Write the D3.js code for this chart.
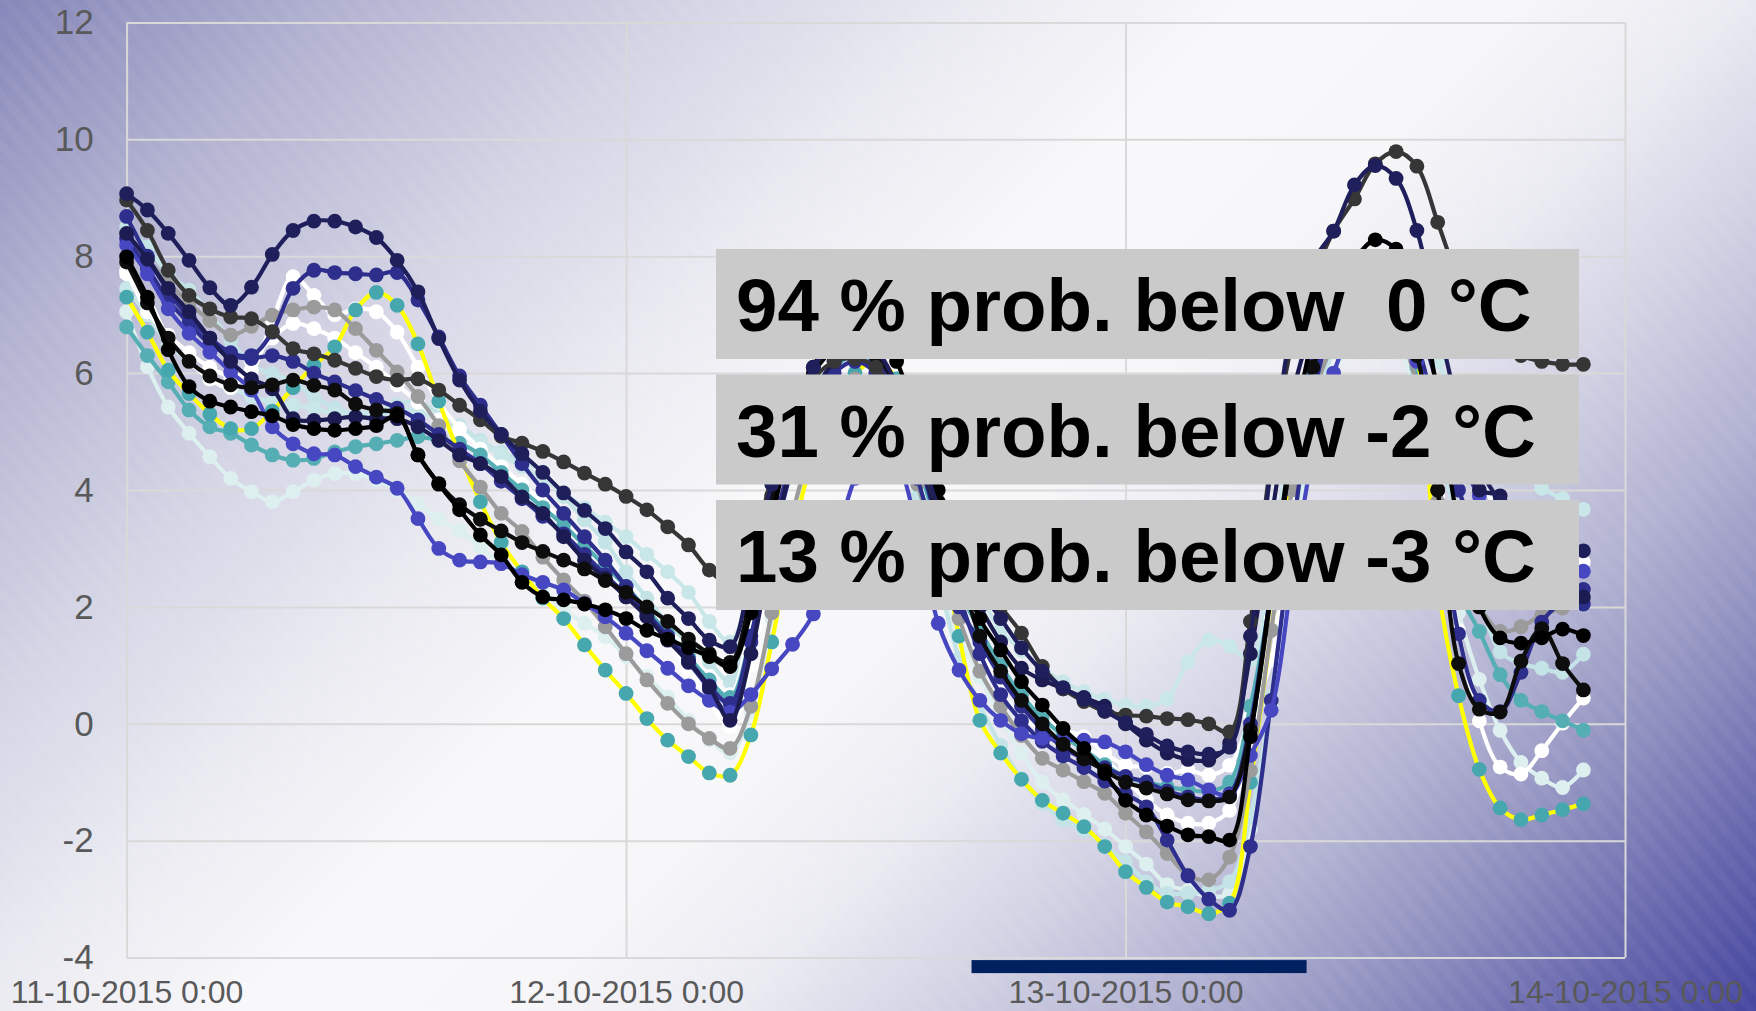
<!DOCTYPE html>
<html>
<head>
<meta charset="utf-8">
<script src="https://cdn.jsdelivr.net/npm/d3@7"></script>
<style>
  body { margin: 0; }
  svg { display: block; }
</style>
</head>
<body>
<div id="chart"></div>
<script>
// ensemble temperature forecast, hourly values from 11-10-2015 0:00
let member01 = [9.07, 8.79, 8.39, 7.93, 7.46, 7.16, 7.47, 8.03, 8.44, 8.60,
  8.60, 8.50, 8.32, 7.93, 7.39, 6.59, 5.88, 5.35, 4.95, 4.62,
  4.30, 3.95, 3.65, 3.34, 2.94, 2.60, 2.15, 1.80, 1.43, 1.32,
  2.6, 4.1, 5.3, 6.1, 6.5, 6.6, 6.4, 5.8, 4.8, 3.7,
  2.9, 2.3, 1.8, 1.3, 0.9, 0.62, 0.42, 0.22, 0.02, -0.18,
  -0.38, -0.48, -0.52, -0.40, 1.5, 4.4, 6.8, 7.9, 8.43, 9.22,
  9.55, 9.33, 8.44, 6.9, 5.4, 4.4, 3.8, 3.45, 3.2, 3.05,
  2.96];
let member02 = [8.96, 8.44, 7.76, 7.33, 7.10, 6.96, 6.93, 6.71, 6.42, 6.33,
  6.22, 6.08, 5.94, 5.88, 5.90, 5.71, 5.45, 5.20, 4.92, 4.80,
  4.66, 4.48, 4.29, 4.10, 3.89, 3.66, 3.37, 3.06, 2.63, 2.4,
  3.0, 4.2, 5.3, 5.9, 6.2, 6.25, 6.1, 5.6, 4.7, 3.7,
  3.0, 2.45, 2.0, 1.55, 0.98, 0.60, 0.38, 0.21, 0.15, 0.13,
  0.09, 0.07, 0.0, -0.14, 1.75, 4.5, 6.5, 7.6, 8.43, 8.98,
  9.58, 9.79, 9.54, 8.58, 7.6, 6.9, 6.5, 6.3, 6.2, 6.15,
  6.15];
let member03 = [8.68, 8.0, 7.4, 6.95, 6.6, 6.35, 6.3, 6.7, 7.45, 7.76,
  7.72, 7.70, 7.68, 7.72, 7.25, 6.62, 5.95, 5.45, 4.95, 4.45,
  4.0, 3.6, 3.2, 2.8, 2.35, 1.9, 1.5, 1.1, 0.65, 0.35,
  1.5, 3.2, 4.6, 5.6, 6.2, 6.4, 6.2, 5.6, 4.6, 3.4,
  2.2, 1.2, 0.5, 0.05, -0.3, -0.55, -0.75, -0.98, -1.2, -1.42,
  -1.99, -2.6, -3.0, -3.19, -2.1, 0.4, 3.2, 5.6, 6.9, 7.5,
  7.7, 7.5, 6.4, 4.0, 1.54, 0.40, 0.21, 0.88, 1.74, 2.1,
  2.3];
let member04 = [8.19, 7.70, 7.10, 6.68, 6.36, 6.02, 5.71, 5.08, 4.79, 4.62,
  4.60, 4.40, 4.22, 4.03, 3.51, 3.0, 2.80, 2.77, 2.74, 2.55,
  2.42, 2.29, 2.06, 1.83, 1.55, 1.25, 0.95, 0.65, 0.4, 0.2,
  0.5, 0.94, 1.36, 1.88, 3.0, 4.2, 4.8, 4.5, 3.3, 1.72,
  0.92, 0.4, 0.06, -0.17, -0.25, -0.27, -0.28, -0.31, -0.48, -0.7,
  -0.88, -0.96, -1.13, -1.22, -0.54, 0.23, 2.5, 4.6, 6.0, 6.8,
  7.1, 6.9, 6.2, 5.4, 4.6, 3.9, 3.5, 3.2, 2.9, 2.72,
  2.61];
let member05 = [7.99, 7.30, 6.40, 5.77, 5.52, 5.42, 5.34, 5.27, 5.12, 5.05,
  5.02, 5.05, 5.10, 5.27, 4.6, 4.1, 3.66, 3.23, 2.89, 2.42,
  2.17, 2.12, 2.05, 1.95, 1.8, 1.6, 1.45, 1.3, 1.15, 0.98,
  1.9, 3.5, 5.0, 6.1, 6.7, 7.0, 6.8, 6.2, 5.2, 4.0,
  2.8, 1.8, 1.26, 0.72, 0.32, -0.08, -0.42, -0.85, -1.31, -1.56,
  -1.75, -1.90, -1.93, -1.99, -0.22, 2.3, 4.8, 6.6, 7.5, 7.95,
  8.28, 8.12, 7.5, 5.6, 3.4, 2.0, 1.47, 1.38, 1.47, 1.62,
  1.51];
let member06 = [8.35, 7.95, 7.55, 7.2, 6.9, 6.65, 6.8, 6.99, 7.08, 7.13,
  7.08, 6.76, 6.39, 6.02, 5.6, 5.1, 4.5, 4.05, 3.6, 3.29,
  2.85, 2.46, 2.1, 1.66, 1.2, 0.75, 0.35, 0.0, -0.25, -0.42,
  0.3, 1.9, 3.6, 4.8, 5.6, 5.9, 5.8, 5.2, 4.1, 2.9,
  1.8, 0.9, 0.3, -0.2, -0.59, -0.79, -0.99, -1.19, -1.53, -1.85,
  -2.22, -2.59, -2.67, -2.28, -0.8, 1.6, 4.0, 5.6, 6.5, 7.0,
  7.1, 6.8, 5.8, 3.8, 2.5, 2.0, 1.58, 1.66, 1.86, 1.98,
  2.13];
let member07 = [7.75, 7.05, 6.65, 6.35, 6.1, 5.95, 6.05, 6.9, 7.65, 7.33,
  7.0, 7.1, 7.05, 6.7, 6.1, 5.5, 5.05, 4.7, 4.4, 4.1,
  3.8, 3.45, 3.1, 2.7, 2.3, 1.85, 1.4, 0.95, 0.4, -0.05,
  1.0, 2.8, 4.4, 5.5, 6.1, 6.3, 6.1, 5.5, 4.4, 3.2,
  2.1, 1.3, 0.55, 0.12, -0.08, -0.11, -0.22, -0.5, -0.71, -0.74,
  -0.85, -0.79, -0.88, -0.71, 0.12, 1.09, 3.6, 5.6, 6.7, 7.2,
  7.4, 7.2, 6.3, 3.9, 1.6, 0.05, -0.74, -0.86, -0.46, 0.01,
  0.44];
let member08 = [8.5, 8.16, 7.7, 7.42, 7.02, 6.56, 6.14, 5.99, 5.85, 5.6,
  5.4, 5.3, 5.22, 5.45, 5.51, 5.31, 5.1, 4.85, 4.65, 4.5,
  4.31, 3.89, 3.49, 3.11, 2.6, 2.15, 1.72, 1.38, 1.06, 0.72,
  1.9, 3.6, 5.0, 5.8, 6.2, 6.3, 6.0, 5.2, 3.9, 2.5,
  1.12, 0.32, -0.37, -0.94, -1.36, -1.65, -1.82, -2.08, -2.36, -2.70,
  -2.90, -2.90, -2.85, -2.70, -1.59, 0.46, 3.2, 5.2, 6.4, 7.0,
  7.2, 6.9, 6.0, 4.6, 3.5, 2.2, 1.23, 1.03, 0.95, 0.88,
  1.19];
let member09 = [7.05, 6.11, 5.42, 4.97, 4.57, 4.2, 3.97, 3.8, 3.97, 4.17,
  4.28, 4.28, 4.17, 4.0, 3.77, 3.5, 3.31, 3.03, 2.74, 2.57,
  2.29, 1.95, 1.72, 1.49, 1.15, 0.81, 0.46, 0.06, -0.28, -0.5,
  0.2, 1.8, 3.4, 4.6, 5.3, 5.6, 5.5, 4.9, 3.8, 2.4,
  1.5, 0.8, 0.1, -0.5, -1.0, -1.3, -1.55, -1.8, -2.1, -2.4,
  -2.75, -2.85, -2.95, -2.9, -1.8, 0.3, 2.9, 4.9, 6.0, 6.6,
  6.8, 6.5, 5.6, 3.4, 1.9, 0.76, -0.11, -0.66, -0.93, -1.09,
  -0.79];
let member10 = [7.3, 6.7, 6.05, 5.65, 5.3, 5.05, 5.05, 5.35, 5.75, 6.13,
  6.45, 7.08, 7.38, 7.16, 6.5, 5.52, 4.6, 3.8, 3.1, 2.6,
  2.15, 1.8, 1.35, 0.92, 0.52, 0.09, -0.28, -0.56, -0.84, -0.88,
  -0.19, 1.4, 3.2, 4.6, 5.5, 6.0, 6.2, 5.9, 4.9, 3.4,
  1.5, 0.06, -0.5, -0.95, -1.31, -1.53, -1.76, -2.1, -2.53, -2.8,
  -3.05, -3.13, -3.25, -3.07, -1.0, 1.6, 4.2, 6.0, 7.0, 7.5,
  7.6, 7.3, 6.3, 2.4, 0.48, -0.78, -1.44, -1.64, -1.56, -1.47,
  -1.37];
let member11 = [6.79, 6.3, 5.85, 5.37, 5.08, 4.97, 4.77, 4.6, 4.51, 4.54,
  4.65, 4.74, 4.79, 4.85, 4.91, 4.85, 4.8, 4.6, 4.3, 4.0,
  3.7, 3.4, 3.05, 2.7, 2.35, 1.95, 1.55, 1.15, 0.75, 0.45,
  1.5, 3.1, 4.6, 5.6, 6.1, 6.3, 6.1, 5.5, 4.5, 3.3,
  2.3, 1.6, 1.0, 0.49, 0.1, -0.2, -0.45, -0.7, -0.91, -1.0,
  -1.08, -1.13, -1.15, -1.0, 0.3, 2.2, 4.4, 6.0, 6.9, 7.3,
  7.4, 7.1, 6.1, 4.2, 2.3, 1.58, 0.84, 0.40, 0.21, 0.05,
  -0.11];
let member12 = [7.9, 7.2, 6.6, 6.2, 5.95, 5.8, 5.75, 5.8, 5.88, 5.79,
  5.71, 5.47, 5.37, 5.31, 4.6, 4.11, 3.75, 3.5, 3.3, 3.1,
  2.95, 2.8, 2.65, 2.45, 2.25, 2.0, 1.75, 1.45, 1.2, 1.05,
  2.2, 3.9, 5.2, 6.0, 6.4, 6.5, 6.3, 5.8, 4.9, 3.8,
  2.7, 1.5, 0.9, 0.4, 0.0, -0.35, -0.6, -0.8, -1.0, -1.1,
  -1.2, -1.3, -1.32, -1.25, -0.1, 2.2, 4.6, 6.1, 6.9, 7.3,
  7.4, 7.1, 6.3, 4.0, 1.03, 0.25, 0.2, 1.07, 1.63, 1.03,
  0.58];
let member13 = [8.39, 7.95, 7.45, 7.05, 6.6, 6.2, 5.9, 5.73, 5.22, 5.19,
  5.22, 5.25, 5.22, 5.22, 5.08, 4.85, 4.6, 4.45, 4.23, 3.88,
  3.6, 3.2, 2.8, 2.49, 2.17, 1.83, 1.43, 1.06, 0.63, 0.06,
  1.2, 3.0, 4.5, 5.6, 6.2, 6.45, 6.3, 5.7, 4.7, 3.5,
  2.6, 2.0, 1.4, 0.95, 0.75, 0.6, 0.45, 0.3, 0.0, -0.28,
  -0.5, -0.61, -0.62, -0.33, 1.2, 3.5, 5.6, 6.8, 7.4, 7.7,
  7.8, 7.6, 6.9, 5.8, 4.6, 4.0, 3.9, 3.4, 2.8, 2.4,
  2.17];
let member14 = [7.7, 7.3, 6.6, 6.2, 5.9, 5.75, 6.2, 6.6, 6.85, 6.76,
  6.6, 6.35, 6.1, 5.8, 5.5, 5.2, 4.9, 4.6, 4.3, 4.0,
  3.7, 3.4, 3.05, 2.7, 2.35, 2.0, 1.6, 1.2, 0.8, 0.5,
  1.8, 3.5, 5.0, 5.9, 6.3, 6.35, 6.1, 5.4, 4.4, 3.3,
  2.3, 1.6, 1.0, 0.5, 0.15, -0.1, -0.35, -0.6, -0.95, -1.3,
  -1.56, -1.70, -1.70, -1.48, -0.3, 1.8, 4.2, 5.9, 6.8, 7.2,
  7.3, 7.0, 6.3, 5.6, 5.0, 4.2, 3.6, 3.2, 3.0, 2.85,
  2.77];
let member15 = [7.45, 7.0, 6.5, 6.2, 5.95, 5.75, 5.6, 5.5, 5.45, 5.4,
  5.3, 5.3, 5.35, 5.4, 5.35, 5.2, 5.0, 4.8, 4.6, 4.4,
  4.2, 3.95, 3.7, 3.45, 3.2, 2.9, 2.6, 2.25, 1.75, 1.4,
  2.4, 3.8, 5.0, 5.8, 6.2, 6.3, 6.1, 5.6, 4.7, 3.6,
  2.8, 2.2, 1.6, 1.25, 0.95, 0.72, 0.55, 0.42, 0.32, 0.3,
  0.43, 1.06, 1.43, 1.33, 1.09, 2.8, 5.0, 6.4, 7.2, 7.6,
  7.8, 7.6, 7.0, 6.2, 5.5, 5.0, 4.6, 4.3, 4.03, 3.85,
  3.67];
let member16 = [8.3, 7.8, 7.25, 6.85, 6.5, 6.3, 6.25, 6.3, 6.2, 6.0,
  5.85, 5.7, 5.55, 5.4, 5.2, 4.95, 4.7, 4.45, 4.15, 3.85,
  3.55, 3.25, 2.9, 2.55, 2.2, 1.85, 1.45, 1.05, 0.6, 0.15,
  1.4, 3.0, 4.4, 5.4, 6.0, 6.2, 6.0, 5.3, 4.2, 3.0,
  2.0, 1.4, 0.8, 0.3, -0.1, -0.4, -0.6, -0.75, -0.9, -1.0,
  -1.15, -1.25, -1.3, -1.2, 0.0, 2.3, 4.6, 6.2, 7.0, 7.4,
  7.5, 7.3, 6.5, 5.2, 4.0, 3.2, 2.7, 2.4, 2.25, 2.1,
  2.05];

// drawing order (first = bottom)
let members = [member09, member08, member15, member14, member07, member11, member10, member06,
  member16, member03, member04, member13, member12, member05, member02, member01];
let lineColors = ["#ddefef", "#c3e3e6", "#c9e7e9", "#ffffff", "#ffffff", "#54aeb4", "#ffff00", "#9b9b9b",
  "#2e2e8c", "#2e2e8c", "#4747c2", "#1c1c52", "#0d0d0d", "#000000", "#363636", "#1f1f5c"];
let markerColors = ["#ddefef", "#c3e3e6", "#c9e7e9", "#ffffff", "#ffffff", "#54aeb4", "#47a7ae", "#9b9b9b",
  "#2e2e8c", "#2e2e8c", "#4747c2", "#1c1c52", "#0d0d0d", "#000000", "#363636", "#1f1f5c"];

let yTicks = [-4, -2, 0, 2, 4, 6, 8, 10, 12];
let xTickLabels = ["11-10-2015 0:00", "12-10-2015 0:00", "13-10-2015 0:00", "14-10-2015 0:00"];
let probLabels = ["94 % prob. below  0 \u00B0C", "31 % prob. below -2 \u00B0C", "13 % prob. below -3 \u00B0C"];
let nightHours = [40.6, 56.7];

let svgWidth = 1756;
let svgHeight = 1011;

let margin = {
  top: 22.4,
  right: 131,
  bottom: 53.4,
  left: 126.6
};

let width = svgWidth - margin.left - margin.right;
let height = svgHeight - margin.top - margin.bottom;

let startTime = Date.UTC(2015, 9, 11, 0, 0);
let hourMs = 3600 * 1000;
let xTickValues = xTickLabels.map((d, i) => new Date(startTime + i * 24 * hourMs));

let svg = d3.select("#chart")
  .append("svg")
  .attr("width", svgWidth)
  .attr("height", svgHeight);

// background: 45 degree gradient with faint stripes
let defs = svg.append("defs");
let grad = defs.append("linearGradient")
  .attr("id", "bg")
  .attr("gradientUnits", "userSpaceOnUse")
  .attr("x1", 0).attr("y1", 0)
  .attr("x2", (svgWidth + svgHeight) / 2).attr("y2", (svgWidth + svgHeight) / 2);
[[0, "#8686b9"], [0.13, "#b4b4d2"], [0.25, "#d4d4e5"], [0.35, "#e9e9f1"], [0.45, "#f8f8fa"],
 [0.55, "#f7f7f9"], [0.63, "#eaeaf2"], [0.71, "#d0d0e3"], [0.79, "#b0b0d1"], [0.86, "#8e8ebf"],
 [0.93, "#6767ae"], [1, "#45459f"]].forEach(s => {
  grad.append("stop").attr("offset", s[0]).attr("stop-color", s[1]);
});
let stripes = defs.append("pattern")
  .attr("id", "stripes")
  .attr("width", 16).attr("height", 16)
  .attr("patternUnits", "userSpaceOnUse")
  .attr("patternTransform", "rotate(-40)");
stripes.append("rect")
  .attr("width", 8).attr("height", 16)
  .attr("fill", "#ffffff")
  .attr("opacity", 0.035);

svg.append("rect").attr("width", svgWidth).attr("height", svgHeight).attr("fill", "url(#bg)");
svg.append("rect").attr("width", svgWidth).attr("height", svgHeight).attr("fill", "url(#stripes)");

let chartGroup = svg.append("g")
  .attr("transform", `translate(${margin.left}, ${margin.top})`);

let xTimeScale = d3.scaleTime()
  .domain([xTickValues[0], xTickValues[3]])
  .range([0, width]);

let yLinearScale = d3.scaleLinear()
  .domain([-4, 12])
  .range([height, 0]);

// grid + tick labels
let yAxis = d3.axisLeft(yLinearScale)
  .tickValues(yTicks)
  .tickSize(-width)
  .tickPadding(33)
  .tickFormat(d => d);

let xAxis = d3.axisBottom(xTimeScale)
  .tickValues(xTickValues)
  .tickSize(-height)
  .tickPadding(23)
  .tickFormat((d, i) => xTickLabels[i]);

let yAxisG = chartGroup.append("g").call(yAxis);
let xAxisG = chartGroup.append("g")
  .attr("transform", `translate(0, ${height})`)
  .call(xAxis);

[yAxisG, xAxisG].forEach(g => {
  g.select(".domain").remove();
  g.selectAll("line").attr("stroke", "#d9d9d9").attr("stroke-width", 2);
  g.selectAll("text")
    .attr("fill", "#595959")
    .style("font-family", "'Liberation Sans', Arial, sans-serif");
});
yAxisG.selectAll("text").style("font-size", "35px");
xAxisG.selectAll("text").style("font-size", "32px");

// night bar under the axis
chartGroup.append("rect")
  .attr("x", xTimeScale(new Date(startTime + nightHours[0] * hourMs)))
  .attr("y", height + 2.5)
  .attr("width", xTimeScale(new Date(startTime + nightHours[1] * hourMs)) - xTimeScale(new Date(startTime + nightHours[0] * hourMs)))
  .attr("height", 13)
  .attr("fill", "#002060");

// ensemble lines
let line = d3.line()
  .x((d, i) => xTimeScale(new Date(startTime + i * hourMs)))
  .y(d => yLinearScale(d))
  .curve(d3.curveCatmullRom.alpha(0.5));

let series = chartGroup.selectAll(".member")
  .data(members)
  .enter()
  .append("g")
  .attr("class", "member");

series.append("path")
  .attr("d", d => line(d))
  .attr("fill", "none")
  .attr("stroke", (d, i) => lineColors[i])
  .attr("stroke-width", 4.2)
  .attr("stroke-linejoin", "round");

series.selectAll("circle")
  .data((d, i) => d.map(v => ({ v: v, c: markerColors[i] })))
  .enter()
  .append("circle")
  .attr("cx", (d, i) => xTimeScale(new Date(startTime + i * hourMs)))
  .attr("cy", d => yLinearScale(d.v))
  .attr("r", 7.4)
  .attr("fill", d => d.c);

// probability boxes
let boxGroup = svg.append("g");
let boxes = boxGroup.selectAll("g")
  .data(probLabels)
  .enter()
  .append("g")
  .attr("transform", (d, i) => `translate(716, ${249 + i * 125.5})`);

boxes.append("rect")
  .attr("width", 863)
  .attr("height", 110)
  .attr("fill", "#cacaca");

boxes.append("text")
  .attr("x", 20)
  .attr("y", 55 + 27)
  .style("white-space", "pre")
  .style("font-family", "'Liberation Sans', Arial, sans-serif")
  .style("font-weight", "bold")
  .style("font-size", "74.5px")
  .attr("fill", "#000000")
  .text(d => d);
</script>
</body>
</html>
